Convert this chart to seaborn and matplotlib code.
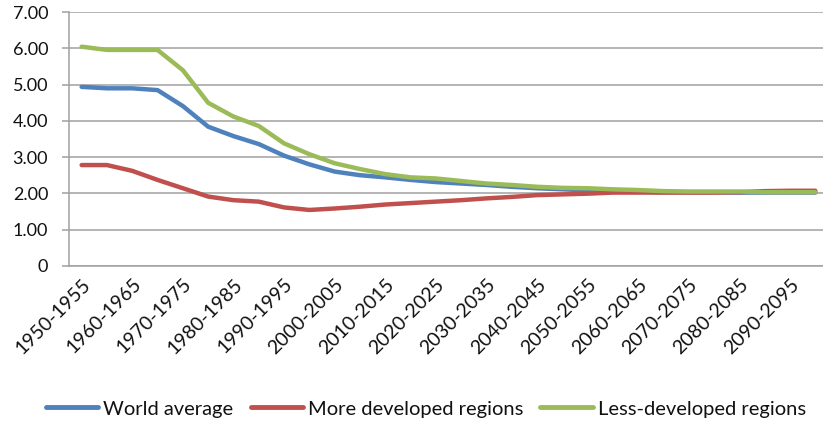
import matplotlib
matplotlib.use("Agg")
import matplotlib.pyplot as plt
import seaborn as sns
import pandas as pd
from matplotlib.ticker import FixedLocator, FuncFormatter

# Five-year periods, 1950-1955 through 2095-2100
periods = [f"{y}-{y + 5}" for y in range(1950, 2100, 5)]

world_average = [4.94, 4.90, 4.90, 4.85, 4.41, 3.84, 3.58, 3.36, 3.04, 2.80,
                 2.60, 2.50, 2.44, 2.37, 2.31, 2.27, 2.23, 2.18, 2.14, 2.11,
                 2.08, 2.05, 2.05, 2.03, 2.03, 2.03, 2.02, 2.02, 2.02, 2.02]
more_developed = [2.78, 2.78, 2.62, 2.37, 2.14, 1.91, 1.81, 1.77, 1.61, 1.54,
                  1.58, 1.63, 1.69, 1.73, 1.77, 1.81, 1.86, 1.90, 1.95, 1.97,
                  1.99, 2.02, 2.02, 2.02, 2.02, 2.02, 2.03, 2.06, 2.07, 2.07]
less_developed = [6.05, 5.96, 5.96, 5.96, 5.40, 4.50, 4.12, 3.86, 3.38, 3.08,
                  2.83, 2.67, 2.53, 2.44, 2.41, 2.34, 2.27, 2.23, 2.18, 2.15,
                  2.14, 2.11, 2.09, 2.06, 2.05, 2.05, 2.05, 2.03, 2.03, 2.03]

series_names = ["World average", "More developed regions", "Less-developed regions"]
series_colors = ["#4F81BD", "#C0504D", "#9BBB59"]

frames = []
for name, values in zip(series_names,
                        [world_average, more_developed, less_developed]):
    frames.append(pd.DataFrame({"idx": range(len(periods)),
                                "value": values, "series": name}))
df = pd.concat(frames, ignore_index=True)

sns.set_style("white")
plt.rcParams["font.family"] = ["Lato", "DejaVu Sans"]

fig = plt.figure(figsize=(8.23, 4.25), dpi=100)
ax = fig.add_axes([69 / 823, 0.3748, 759 / 823, 0.5963])

sns.lineplot(data=df, x="idx", y="value", hue="series",
             hue_order=series_names, palette=series_colors,
             linewidth=3.2, ax=ax, legend=False)

grid_col = "#A0A0A0"
text_col = "#111111"
ax.set_xlim(-0.5, len(periods) - 0.5)
ax.set_ylim(0, 7)
ax.yaxis.set_major_locator(FixedLocator(range(0, 8)))
ax.yaxis.set_major_formatter(
    FuncFormatter(lambda v, p: "0" if v == 0 else f"{v:.2f}"))
ax.grid(axis="y", color=grid_col, linewidth=1.1)
ax.set_axisbelow(True)

# Category labels on every other period, tick marks between categories
ax.xaxis.set_major_locator(FixedLocator(range(0, len(periods), 2)))
ax.set_xticklabels(periods[::2], rotation=45, ha="right",
                   rotation_mode="anchor")
ax.xaxis.set_minor_locator(FixedLocator([i - 0.5 for i in range(len(periods) + 1)]))
ax.tick_params(axis="x", which="major", length=0, pad=7, labelsize=14,
               labelcolor=text_col)
ax.tick_params(axis="x", which="minor", length=6, width=1.1, color=grid_col,
               direction="out")
ax.tick_params(axis="y", length=5, width=1.1, color=grid_col, pad=10,
               labelsize=13, labelcolor=text_col, left=True)

for side in ["top", "right"]:
    ax.spines[side].set_visible(False)
for side in ["left", "bottom"]:
    ax.spines[side].set_color(grid_col)
    ax.spines[side].set_linewidth(1.1)

ax.set_xlabel("")
ax.set_ylabel("")

handles = [plt.Line2D([0], [0], color=c, linewidth=3.5, solid_capstyle="round")
           for c in series_colors]
leg = fig.legend(handles, series_names, loc="lower center", ncol=3,
                 bbox_to_anchor=(0.5176, -0.025), frameon=False, fontsize=14.5,
                 handlelength=2.6, handletextpad=0.25, columnspacing=0.85)
for t in leg.get_texts():
    t.set_color(text_col)

fig.savefig("out.png", dpi=100)
